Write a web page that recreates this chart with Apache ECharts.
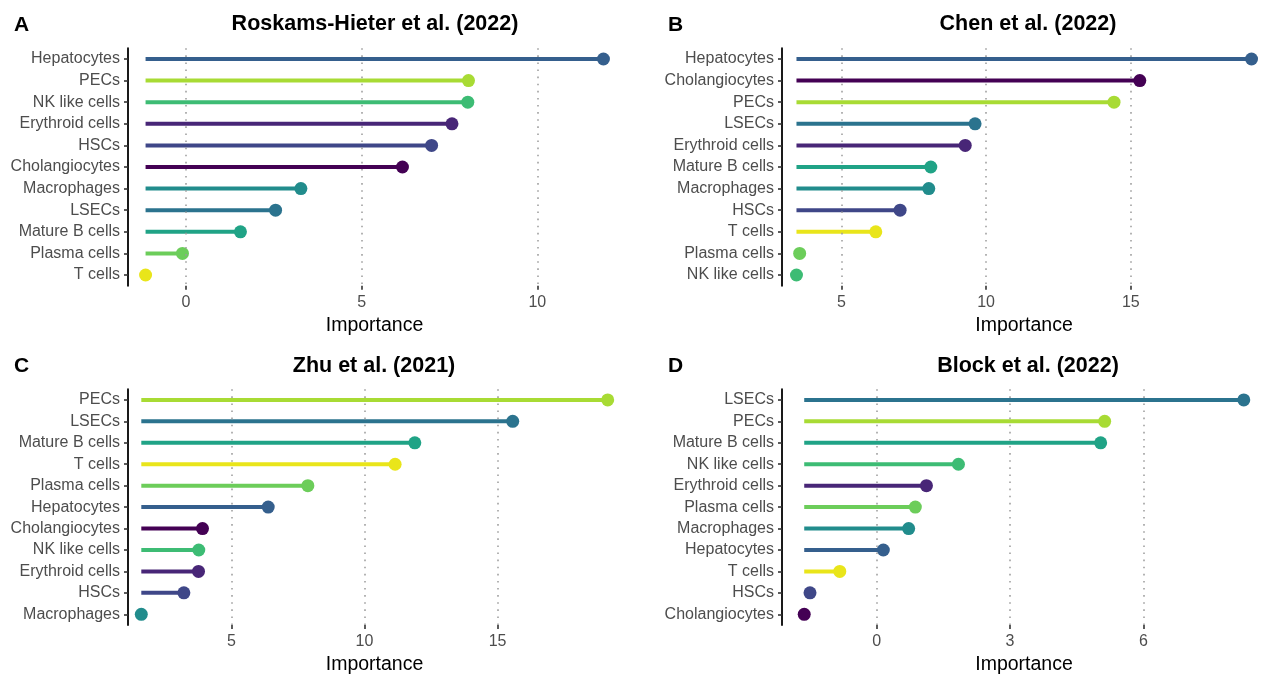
<!DOCTYPE html>
<html>
<head>
<meta charset="utf-8">
<script src="https://cdn.jsdelivr.net/npm/echarts@6/dist/echarts.min.js"></script>
<style>html,body{margin:0;padding:0;background:#fff;}#chart{width:1266px;height:676px;}</style>
</head>
<body>
<div id="chart"></div>
<script>
// ---- data ----
const titles = ['Roskams-Hieter et al. (2022)', 'Chen et al. (2022)', 'Zhu et al. (2021)', 'Block et al. (2022)'];
const letters = ['A', 'B', 'C', 'D'];

const catsA = ['Hepatocytes', 'PECs', 'NK like cells', 'Erythroid cells', 'HSCs', 'Cholangiocytes', 'Macrophages', 'LSECs', 'Mature B cells', 'Plasma cells', 'T cells'];
const valsA = [11.88, 8.04, 8.02, 7.57, 6.99, 6.16, 3.27, 2.55, 1.55, -0.10, -1.15];
const ticksA = [0, 5, 10];

const catsB = ['Hepatocytes', 'Cholangiocytes', 'PECs', 'LSECs', 'Erythroid cells', 'Mature B cells', 'Macrophages', 'HSCs', 'T cells', 'Plasma cells', 'NK like cells'];
const valsB = [19.17, 15.31, 14.42, 9.62, 9.28, 8.09, 8.02, 7.03, 6.19, 3.56, 3.45];
const ticksB = [5, 10, 15];

const catsC = ['PECs', 'LSECs', 'Mature B cells', 'T cells', 'Plasma cells', 'Hepatocytes', 'Cholangiocytes', 'NK like cells', 'Erythroid cells', 'HSCs', 'Macrophages'];
const valsC = [19.14, 15.57, 11.89, 11.15, 7.87, 6.38, 3.91, 3.77, 3.76, 3.21, 1.61];
const ticksC = [5, 10, 15];

const catsD = ['LSECs', 'PECs', 'Mature B cells', 'NK like cells', 'Erythroid cells', 'Plasma cells', 'Macrophages', 'Hepatocytes', 'T cells', 'HSCs', 'Cholangiocytes'];
const valsD = [8.26, 5.13, 5.04, 1.84, 1.12, 0.87, 0.72, 0.15, -0.83, -1.50, -1.63];
const ticksD = [0, 3, 6];

const cellColors = {
  'Cholangiocytes': '#440154',
  'Erythroid cells': '#482677',
  'HSCs': '#3f4788',
  'Hepatocytes': '#355f8d',
  'LSECs': '#2b738e',
  'Macrophages': '#218c8c',
  'Mature B cells': '#20a386',
  'NK like cells': '#3dbc74',
  'Plasma cells': '#6ccd5a',
  'PECs': '#a8db34',
  'T cells': '#e9e51a'
};

// ---- layout ----
const FONT = "'Liberation Sans', Arial, Helvetica, sans-serif";
const panels = [
  { cats: catsA, vals: valsA, ticks: ticksA, left: 128, top: 48.2, tx: 375, ty: 24.5, lx: 14, ly: 25 },
  { cats: catsB, vals: valsB, ticks: ticksB, left: 782, top: 48.2, tx: 1028, ty: 24.5, lx: 668, ly: 25 },
  { cats: catsC, vals: valsC, ticks: ticksC, left: 128, top: 389.2, tx: 374, ty: 366, lx: 14, ly: 366 },
  { cats: catsD, vals: valsD, ticks: ticksD, left: 782, top: 389.2, tx: 1028, ty: 366, lx: 668, ly: 366 }
];
const GRID_W = 493, ROW_H = 21.6;

const grid = [], xAxis = [], yAxis = [], series = [], graphic = [];
panels.forEach((p, i) => {
  const mn = Math.min(...p.vals), mx = Math.max(...p.vals);
  grid.push({ left: p.left, top: p.top, width: GRID_W, height: ROW_H * p.cats.length, containLabel: false });
  xAxis.push({
    type: 'value', gridIndex: i, min: mn - 0.5, max: mx + 0.5,
    name: 'Importance', nameLocation: 'middle', nameGap: 30,
    nameTextStyle: { color: '#000', fontSize: 19.5, fontFamily: FONT },
    axisLine: { show: false, onZero: false },
    axisTick: { show: true, customValues: p.ticks, length: 4, lineStyle: { color: '#333', width: 1.6 } },
    axisLabel: { customValues: p.ticks, color: '#4d4d4d', fontSize: 16, fontFamily: FONT, margin: 9 },
    splitLine: { show: false }
  });
  yAxis.push({
    type: 'category', gridIndex: i, data: p.cats, inverse: true,
    axisLine: { show: true, onZero: false, lineStyle: { color: '#1a1a1a', width: 2 } },
    axisTick: { show: true, length: 4, alignWithLabel: true, lineStyle: { color: '#333', width: 1.6 } },
    axisLabel: { color: '#4d4d4d', fontSize: 16, fontFamily: FONT, margin: 8, padding: [3, 0, 0, 0] },
    splitLine: { show: false }
  });
  // dotted gridlines
  series.push({
    type: 'line', xAxisIndex: i, yAxisIndex: i, data: [], z: 1, silent: true,
    markLine: {
      silent: true, symbol: ['none', 'none'], label: { show: false }, animation: false,
      lineStyle: { type: [1.6, 5.5], color: '#9a9a9a', width: 1.5 },
      emphasis: { disabled: true },
      data: p.ticks.map(t => ({ xAxis: t }))
    }
  });
  // lollipops
  const cats = p.cats;
  series.push({
    type: 'custom', xAxisIndex: i, yAxisIndex: i, z: 3,
    encode: { x: [0, 1], y: 2 },
    data: p.vals.map((v, k) => [mn, v, k]),
    renderItem: (params, api) => {
      const s = api.coord([api.value(0), api.value(2)]);
      const e = api.coord([api.value(1), api.value(2)]);
      const color = cellColors[cats[params.dataIndex]];
      return {
        type: 'group',
        children: [
          { type: 'line', shape: { x1: s[0], y1: s[1], x2: e[0], y2: e[1] }, style: { stroke: color, lineWidth: 4 } },
          { type: 'circle', shape: { cx: e[0], cy: e[1], r: 6.5 }, style: { fill: color } }
        ]
      };
    }
  });
  graphic.push({ type: 'text', x: p.tx, y: p.ty, style: { text: titles[i], fill: '#000', font: 'bold 21.5px ' + FONT, textAlign: 'center', textVerticalAlign: 'middle' } });
  graphic.push({ type: 'text', x: p.lx, y: p.ly, style: { text: letters[i], fill: '#000', font: 'bold 21px ' + FONT, textAlign: 'left', textVerticalAlign: 'middle' } });
});

const chart = echarts.init(document.getElementById('chart'), null, { renderer: 'canvas' });
chart.setOption({
  animation: false,
  backgroundColor: '#fff',
  textStyle: { fontFamily: FONT },
  grid, xAxis, yAxis, series, graphic
});
</script>
</body>
</html>
